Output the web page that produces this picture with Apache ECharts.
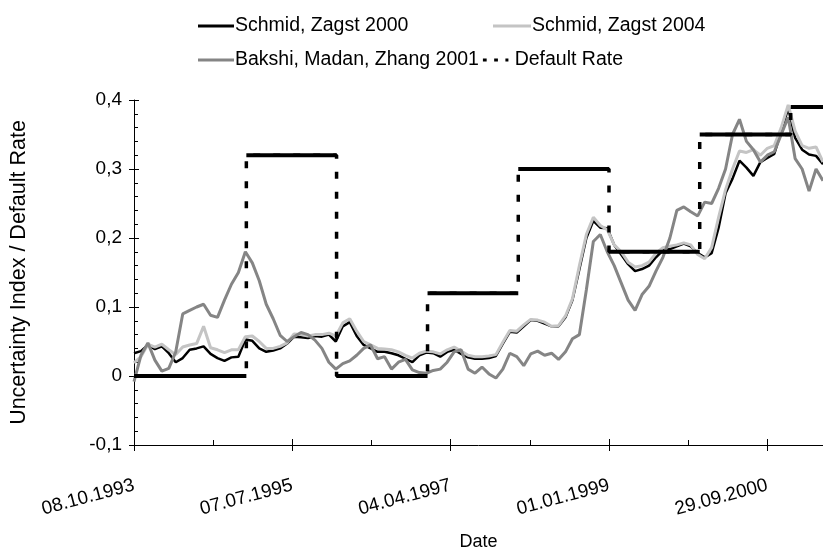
<!DOCTYPE html>
<html>
<head>
<meta charset="utf-8">
<script src="https://cdn.jsdelivr.net/npm/echarts@6/dist/echarts.min.js"></script>
<style>
html,body{margin:0;padding:0;background:#fff;}
#chart{width:823px;height:556px;}
</style>
</head>
<body>
<div id="chart"></div>
<script>
// days since 08.10.1993
var days = [0,28,56,84,112,140,168,196,224,252,280,308,336,364,392,420,448,476,504,532,560,588,616,644,
  672,700,728,756,784,812,840,868,896,924,952,980,1008,1036,1064,1092,1120,1148,1176,1204,1232,1260,1288,1316,
  1344,1372,1400,1428,1456,1484,1512,1540,1568,1596,1624,1652,1680,1708,1736,1764,1792,1820,1848,1876,1904,1932,1960,
  1988,2016,2044,2072,2100,2128,2156,2184,2212,2240,2268,2296,2324,2352,2380,2408,2436,2464,2492,2520,2548,2576,2604,2632,2660,2688,2716,2744,2772];

var schmid2000 = [0.033,0.036,0.045,0.039,0.043,0.033,0.020,0.026,0.038,0.040,0.043,0.032,0.026,0.022,0.027,0.028,0.053,0.051,0.040,0.035,0.037,0.040,0.047,0.057,
  0.056,0.055,0.058,0.057,0.060,0.050,0.072,0.078,0.058,0.045,0.040,0.035,0.035,0.033,0.030,0.025,0.020,0.030,0.034,0.033,0.028,0.035,0.038,0.032,
  0.027,0.025,0.025,0.026,0.029,0.047,0.064,0.063,0.072,0.081,0.080,0.076,0.072,0.072,0.085,0.110,0.155,0.200,0.225,0.215,0.214,0.190,0.176,
  0.162,0.152,0.155,0.160,0.172,0.182,0.184,0.188,0.192,0.188,0.178,0.172,0.178,0.215,0.265,0.286,0.312,0.302,0.290,0.310,0.316,0.322,0.355,0.388,0.345,0.328,0.321,0.319,0.307];

var schmid2004 = [0.019,0.028,0.046,0.042,0.046,0.038,0.031,0.042,0.045,0.047,0.072,0.041,0.038,0.034,0.038,0.038,0.057,0.058,0.050,0.040,0.040,0.043,0.048,0.061,
  0.060,0.058,0.060,0.060,0.062,0.058,0.077,0.083,0.065,0.050,0.045,0.040,0.039,0.038,0.035,0.030,0.026,0.033,0.036,0.035,0.032,0.038,0.042,0.036,
  0.030,0.028,0.028,0.029,0.031,0.049,0.066,0.065,0.074,0.082,0.081,0.078,0.072,0.073,0.087,0.112,0.160,0.205,0.230,0.218,0.212,0.190,0.180,
  0.165,0.158,0.160,0.165,0.178,0.186,0.188,0.190,0.193,0.190,0.176,0.170,0.186,0.230,0.270,0.300,0.326,0.324,0.328,0.320,0.330,0.334,0.360,0.393,0.355,0.334,0.330,0.332,0.310];

var bakshi2001 = [-0.008,0.030,0.048,0.023,0.007,0.011,0.035,0.090,0.095,0.100,0.104,0.088,0.085,0.110,0.133,0.150,0.180,0.164,0.138,0.104,0.083,0.059,0.050,0.057,
  0.063,0.060,0.052,0.040,0.020,0.010,0.018,0.022,0.030,0.040,0.045,0.025,0.028,0.010,0.020,0.024,0.009,0.005,0.004,0.008,0.010,0.020,0.035,0.038,
  0.010,0.004,0.013,0.003,-0.003,0.010,0.033,0.028,0.015,0.032,0.036,0.030,0.033,0.024,0.035,0.054,0.060,0.125,0.195,0.205,0.180,0.160,0.135,
  0.110,0.095,0.118,0.130,0.152,0.172,0.200,0.240,0.245,0.238,0.232,0.252,0.250,0.272,0.300,0.350,0.372,0.340,0.328,0.310,0.320,0.325,0.350,0.375,0.315,0.300,0.268,0.300,0.283];

// default rate, yearly steps
var rateStart = [0,452,815,1181,1546,1911,2276,2642];
var rateValue = [0,0.32,0,0.12,0.30,0.18,0.35,0.39];
var rateEnd = 2772;

var xTickLabels = ['08.10.1993','07.07.1995','04.04.1997','01.01.1999','29.09.2000'];
var yTickLabels = ['-0,1','0','0,1','0,2','0,3','0,4'];

var FONT = "'Liberation Sans',Arial,sans-serif";

function pairs(ys){
  return days.map(function(d,i){return [d, ys[i]];});
}
// full step path (dashed verticals)
var stepPath = [];
// horizontal pieces (solid)
var stepFlat = [];
for (var i=0;i<rateStart.length;i++){
  var e = i<rateStart.length-1 ? rateStart[i+1] : rateEnd;
  stepPath.push([rateStart[i], rateValue[i]]);
  stepPath.push([e, rateValue[i]]);
  stepFlat.push([rateStart[i], rateValue[i]]);
  stepFlat.push([e, rateValue[i]]);
  stepFlat.push([e, '-']);
}

var mycharts = echarts.init(document.getElementById('chart'));
var legendText = {fontFamily:FONT, fontSize:19.5, color:'#000', padding:[0,0,0,-4]};
var dotIcon = 'path://M0,0h5v4h-5zM15,0h5v4h-5zM30,0h4v4h-4z';
var options = {
  backgroundColor:'#fff',
  animation:false,
  legend:[
    {left:193, top:11, itemWidth:36, itemHeight:3, icon:'rect', textStyle:legendText, data:['Schmid, Zagst 2000']},
    {left:488, top:11, itemWidth:38, itemHeight:3, icon:'rect', textStyle:legendText, data:['Schmid, Zagst 2004']},
    {left:193, top:45, itemWidth:36, itemHeight:3, itemGap:4, icon:'rect', textStyle:legendText,
      data:['Bakshi, Madan, Zhang 2001', {name:'Default Rate', icon:dotIcon}]}
  ],
  grid:{left:134, right:0, top:100, bottom:106, containLabel:false},
  xAxis:[
    {
      type:'value', min:0, max:2772, interval:637, position:'bottom',
      name:'Date', nameLocation:'middle', nameGap:88,
      nameTextStyle:{fontFamily:FONT, fontSize:18, color:'#000'},
      axisLine:{onZero:false, lineStyle:{color:'#000', width:1}},
      axisTick:{length:6, lineStyle:{color:'#000'}},
      axisLabel:{rotate:15, margin:40, fontFamily:FONT, fontSize:19, color:'#000',
        formatter:function(v){ return xTickLabels[Math.round(v/637)] || ''; }},
      splitLine:{show:false}
    },
    {
      type:'value', min:0, max:2772, interval:637, position:'bottom',
      axisLine:{show:false, onZero:false},
      axisTick:{inside:true, length:6, lineStyle:{color:'#000'}},
      minorTick:{show:true, splitNumber:2, length:5, lineStyle:{color:'#000'}},
      axisLabel:{show:false}, splitLine:{show:false}
    }
  ],
  yAxis:[
    {
      type:'value', min:-0.1, max:0.4, interval:0.1, position:'left',
      name:'Uncertainty Index / Default Rate', nameLocation:'middle', nameGap:104,
      nameTextStyle:{fontFamily:FONT, fontSize:21.5, color:'#000'},
      axisLine:{show:true, onZero:false, lineStyle:{color:'#000', width:1}},
      axisTick:{show:true, length:5, lineStyle:{color:'#000'}},
      axisLabel:{margin:12, fontFamily:FONT, fontSize:19, color:'#000',
        formatter:function(v){ return yTickLabels[Math.round((v+0.1)/0.1)]; }},
      splitLine:{show:false}
    },
    {
      type:'value', min:-0.1, max:0.4, interval:0.1, position:'left',
      axisLine:{show:false, onZero:false},
      axisTick:{show:true, inside:true, length:5, lineStyle:{color:'#000'}},
      minorTick:{show:true, splitNumber:5, length:4, lineStyle:{color:'#000'}},
      axisLabel:{show:false}, splitLine:{show:false}
    }
  ],
  series:[
    {name:'Schmid, Zagst 2000', type:'line', data:pairs(schmid2000), symbol:'none',
      lineStyle:{color:'#000', width:2.5}, itemStyle:{color:'#000'}},
    {name:'Schmid, Zagst 2004', type:'line', data:pairs(schmid2004), symbol:'none',
      lineStyle:{color:'#c4c4c4', width:3}, itemStyle:{color:'#c4c4c4'}},
    {name:'Bakshi, Madan, Zhang 2001', type:'line', data:pairs(bakshi2001), symbol:'none',
      lineStyle:{color:'#858585', width:3}, itemStyle:{color:'#858585'}},
    {name:'Default Rate', type:'line', data:stepPath, symbol:'none',
      lineStyle:{color:'#000', width:3.5, type:[7,13]}, itemStyle:{color:'#000'}},
    {name:'Default Rate steps', type:'line', data:stepFlat, symbol:'none', connectNulls:false,
      lineStyle:{color:'#000', width:4}, itemStyle:{color:'#000'}}
  ]
};
mycharts.setOption(options, true);
window.addEventListener('resize', function(){ mycharts.resize(); });
</script>
</body>
</html>
